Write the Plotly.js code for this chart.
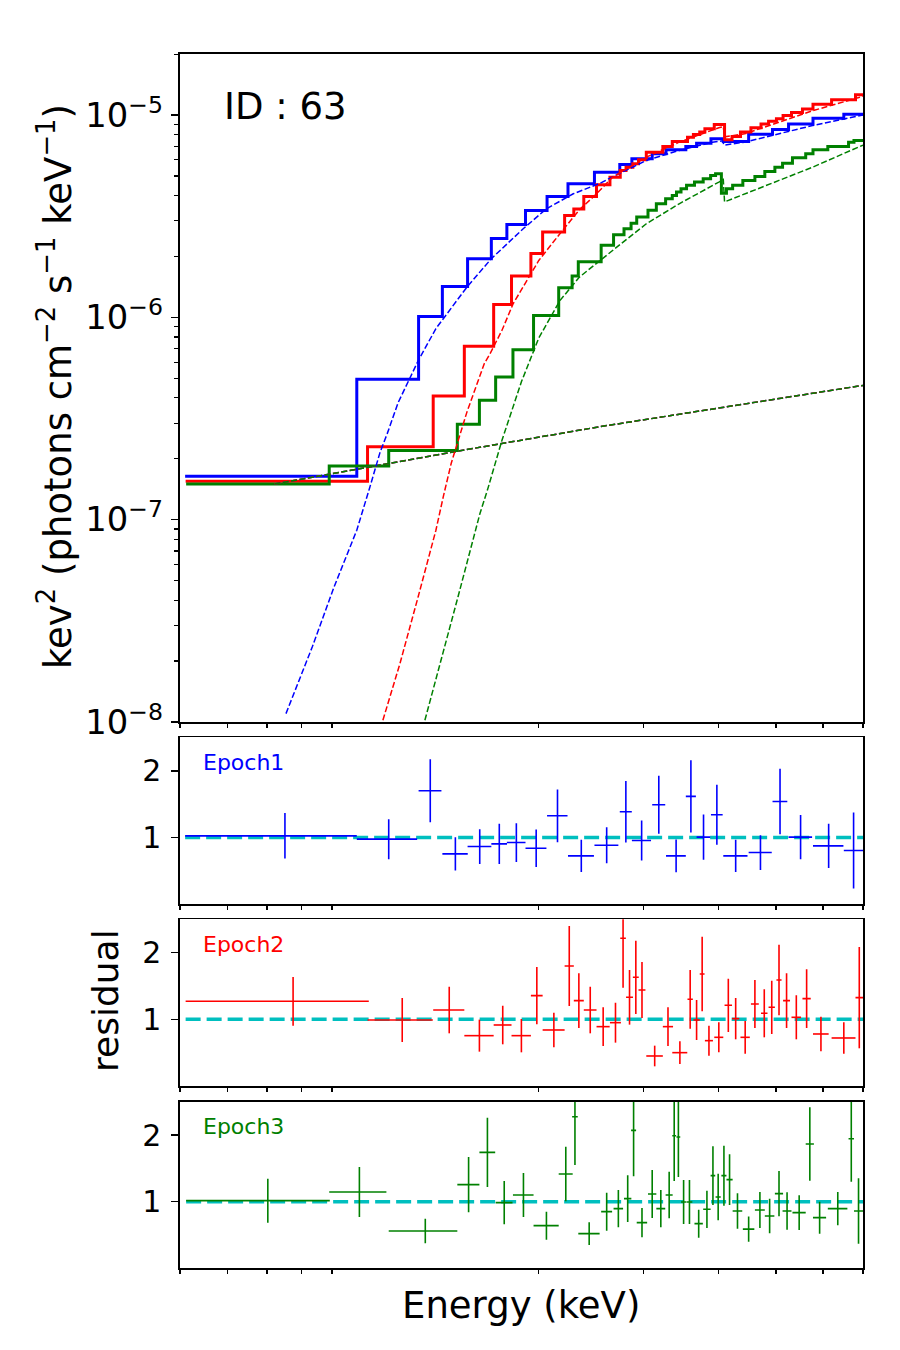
<!DOCTYPE html>
<html>
<head>
<meta charset="utf-8">
<script src="https://cdn.plot.ly/plotly-3.0.1.min.js"></script>
<style>
  html, body { margin: 0; padding: 0; background: #ffffff; }
  #chart { width: 900px; height: 1350px; }
</style>
</head>
<body>
<div id="chart"></div>
<script>
// ---------------- Epoch 1 (blue) ----------------
// bin centre (keV), half width (keV), data/model ratio, ratio error, folded model level per bin
const e1Energy    = [0.75, 1.12, 1.315, 1.449, 1.592, 1.717, 1.834, 1.98, 2.15, 2.357, 2.60, 2.80, 2.976, 3.18, 3.40, 3.60, 3.78, 3.98, 4.28, 4.71, 5.08, 5.50, 6.13, 6.75];
const e1HalfWidth = [0.24, 0.13, 0.058, 0.071, 0.073, 0.052, 0.066, 0.08, 0.085, 0.118, 0.12, 0.065, 0.11, 0.08, 0.13, 0.07, 0.10, 0.09, 0.20, 0.21, 0.145, 0.25, 0.36, 0.25];
const e1Ratio     = [1.025, 0.975, 1.70, 0.755, 0.865, 0.905, 0.925, 0.84, 1.325, 0.725, 0.885, 1.385, 0.955, 1.49, 0.725, 1.615, 1.005, 1.34, 0.725, 0.775, 1.54, 1.005, 0.875, 0.805];
const e1RatioErr  = [0.34, 0.30, 0.47, 0.25, 0.26, 0.30, 0.29, 0.28, 0.395, 0.24, 0.27, 0.46, 0.30, 0.435, 0.245, 0.54, 0.34, 0.45, 0.24, 0.26, 0.49, 0.33, 0.33, 0.57];
const e1Model     = [1.64e-7, 4.94e-7, 1.01e-6, 1.42e-6, 1.95e-6, 2.45e-6, 2.88e-6, 3.37e-6, 3.96e-6, 4.57e-6, 5.22e-6, 5.70e-6, 6.08e-6, 6.43e-6, 6.73e-6, 6.99e-6, 7.26e-6, 7.63e-6, 7.39e-6, 8.03e-6, 8.48e-6, 9.04e-6, 9.64e-6, 1.01e-5];
// absorbed component (keV, keV^2 flux)
const e1CurveE    = [0.753, 0.834, 0.907, 0.99, 1.04, 1.083, 1.114, 1.162, 1.255, 1.344, 1.515, 1.665, 1.883, 2.06, 2.285, 2.535, 2.66, 3.03, 3.44, 3.91, 4.07, 4.09, 4.43, 5.06, 5.76, 6.71, 7.0];
const e1CurveF    = [1.10e-8, 2.36e-8, 4.66e-8, 8.87e-8, 1.43e-7, 2.15e-7, 2.67e-7, 3.8e-7, 6.1e-7, 8.8e-7, 1.41e-6, 1.95e-6, 2.74e-6, 3.44e-6, 4.08e-6, 4.6e-6, 4.95e-6, 5.96e-6, 6.68e-6, 7.34e-6, 7.45e-6, 7.10e-6, 7.34e-6, 8.07e-6, 8.87e-6, 9.75e-6, 1.0e-5];

// ---------------- Epoch 2 (red) ----------------
const e2Energy    = [0.774, 1.18, 1.415, 1.59, 1.74, 1.87, 1.985, 2.12, 2.25, 2.335, 2.44, 2.565, 2.69, 2.77, 2.84, 2.91, 2.98, 3.13, 3.295, 3.45, 3.59, 3.68, 3.76, 3.86, 4.01, 4.16, 4.28, 4.44, 4.61, 4.78, 4.92, 5.06, 5.21, 5.41, 5.63, 5.95, 6.50, 6.90];
const e2HalfWidth = [0.263, 0.148, 0.085, 0.09, 0.06, 0.07, 0.045, 0.09, 0.04, 0.045, 0.06, 0.065, 0.057, 0.03, 0.038, 0.033, 0.04, 0.10, 0.065, 0.10, 0.037, 0.045, 0.035, 0.06, 0.07, 0.06, 0.06, 0.08, 0.07, 0.06, 0.06, 0.05, 0.07, 0.10, 0.09, 0.18, 0.30, 0.10];
const e2Ratio     = [1.27, 0.99, 1.14, 0.755, 0.915, 0.755, 1.355, 0.84, 1.80, 1.28, 1.14, 0.89, 0.95, 2.215, 1.33, 1.63, 1.44, 0.45, 0.89, 0.50, 1.30, 0.99, 1.68, 0.68, 0.73, 1.21, 1.01, 0.73, 1.23, 1.09, 1.18, 1.59, 1.28, 1.03, 1.31, 0.78, 0.72, 1.325];
const e2RatioErr  = [0.365, 0.33, 0.35, 0.24, 0.29, 0.25, 0.43, 0.26, 0.60, 0.41, 0.35, 0.29, 0.30, 0.74, 0.41, 0.55, 0.42, 0.155, 0.29, 0.17, 0.44, 0.30, 0.56, 0.225, 0.225, 0.40, 0.31, 0.245, 0.36, 0.36, 0.40, 0.53, 0.41, 0.33, 0.44, 0.26, 0.235, 0.76];
const e2Model     = [1.55e-7, 2.29e-7, 4.08e-7, 7.19e-7, 1.156e-6, 1.60e-6, 2.07e-6, 2.64e-6, 3.19e-6, 3.43e-6, 3.96e-6, 4.52e-6, 4.93e-6, 5.32e-6, 5.52e-6, 5.74e-6, 6.01e-6, 6.55e-6, 6.99e-6, 7.39e-6, 7.77e-6, 8.01e-6, 8.23e-6, 8.55e-6, 8.98e-6, 7.54e-6, 7.82e-6, 8.23e-6, 8.65e-6, 9.04e-6, 9.31e-6, 9.57e-6, 9.95e-6, 1.03e-5, 1.07e-5, 1.13e-5, 1.19e-5, 1.26e-5];
const e2CurveE    = [1.095, 1.17, 1.255, 1.344, 1.383, 1.426, 1.515, 1.62, 1.657, 1.735, 1.812, 2.0, 2.17, 2.34, 2.50, 2.66, 3.03, 3.44, 4.01, 4.08, 4.10, 4.43, 5.06, 5.76, 6.89, 7.0];
const e2CurveF    = [1.02e-8, 1.95e-8, 4.16e-8, 8.87e-8, 1.30e-7, 1.90e-7, 3.4e-7, 5.9e-7, 6.62e-7, 8.63e-7, 1.17e-6, 1.91e-6, 2.59e-6, 3.40e-6, 4.08e-6, 4.93e-6, 6.19e-6, 7.34e-6, 8.65e-6, 8.75e-6, 7.80e-6, 8.07e-6, 9.21e-6, 1.05e-5, 1.22e-5, 1.24e-5];

// ---------------- Epoch 3 (green) ----------------
const e3Energy    = [0.702, 1.0, 1.29, 1.525, 1.64, 1.75, 1.885, 2.06, 2.22, 2.30, 2.43, 2.60, 2.72, 2.82, 2.885, 2.98, 3.10, 3.205, 3.31, 3.375, 3.43, 3.50, 3.58, 3.71, 3.83, 3.92, 4.00, 4.09, 4.18, 4.31, 4.50, 4.70, 4.88, 5.06, 5.22, 5.47, 5.70, 5.92, 6.35, 6.69, 6.88];
const e3HalfWidth = [0.19, 0.11, 0.17, 0.065, 0.05, 0.057, 0.075, 0.10, 0.06, 0.025, 0.10, 0.055, 0.05, 0.04, 0.028, 0.06, 0.05, 0.055, 0.045, 0.025, 0.025, 0.035, 0.04, 0.06, 0.055, 0.035, 0.04, 0.04, 0.05, 0.08, 0.10, 0.09, 0.09, 0.08, 0.09, 0.14, 0.09, 0.15, 0.24, 0.07, 0.12];
const e3Ratio     = [1.015, 1.145, 0.56, 1.255, 1.74, 0.985, 1.10, 0.64, 1.415, 2.275, 0.52, 0.85, 0.895, 1.045, 2.07, 0.685, 1.115, 0.895, 1.10, 1.99, 1.97, 0.995, 0.995, 0.67, 0.885, 1.39, 1.07, 1.39, 1.33, 0.86, 0.587, 0.875, 0.785, 1.12, 0.86, 0.835, 1.865, 0.76, 0.895, 1.945, 0.86];
const e3RatioErr  = [0.33, 0.375, 0.185, 0.415, 0.52, 0.325, 0.33, 0.21, 0.41, 0.725, 0.17, 0.285, 0.28, 0.35, 0.69, 0.22, 0.36, 0.28, 0.35, 0.68, 0.60, 0.33, 0.33, 0.21, 0.28, 0.44, 0.35, 0.45, 0.38, 0.265, 0.19, 0.27, 0.26, 0.34, 0.28, 0.26, 0.55, 0.24, 0.25, 0.645, 0.49];
const e3Model     = [1.50e-7, 1.84e-7, 2.20e-7, 2.96e-7, 3.89e-7, 5.07e-7, 6.92e-7, 1.02e-6, 1.40e-6, 1.60e-6, 1.88e-6, 2.27e-6, 2.56e-6, 2.74e-6, 2.92e-6, 3.13e-6, 3.38e-6, 3.64e-6, 3.86e-6, 4.00e-6, 4.16e-6, 4.32e-6, 4.49e-6, 4.66e-6, 4.84e-6, 5.03e-6, 5.12e-6, 4.11e-6, 4.32e-6, 4.49e-6, 4.75e-6, 4.97e-6, 5.26e-6, 5.52e-6, 5.78e-6, 6.14e-6, 6.43e-6, 6.73e-6, 6.99e-6, 7.33e-6, 7.48e-6];
const e3CurveE    = [1.288, 1.367, 1.464, 1.593, 1.64, 1.735, 1.87, 2.0, 2.17, 2.34, 2.53, 2.66, 3.03, 3.44, 4.01, 4.08, 4.10, 4.43, 5.06, 5.76, 6.89, 7.0];
const e3CurveF    = [1.02e-8, 1.95e-8, 4.16e-8, 1.07e-7, 1.40e-7, 2.47e-7, 4.8e-7, 7.9e-7, 1.21e-6, 1.58e-6, 1.91e-6, 2.14e-6, 2.90e-6, 3.64e-6, 4.66e-6, 4.80e-6, 3.72e-6, 4.08e-6, 4.75e-6, 5.52e-6, 6.99e-6, 7.1e-6];

// unabsorbed (scattered) power law, common to the three epochs
const plEnergy = [0.72, 0.93, 1.46, 2.53, 7.0];
const plFlux   = [1.50e-7, 1.72e-7, 2.18e-7, 2.88e-7, 4.61e-7];

const epochNames  = ['Epoch1', 'Epoch2', 'Epoch3'];
const epochColors = ['#0000ff', '#ff0000', '#008000'];
const xTickVals   = [0.5, 0.6, 0.7, 0.8, 0.9, 2, 3, 4, 5, 6, 7];
const yTickVals   = [1, 2];
const energyRange = [0.5, 7.0];

const epochs = [
  {E: e1Energy, hw: e1HalfWidth, r: e1Ratio, dr: e1RatioErr, m: e1Model, cE: e1CurveE, cF: e1CurveF},
  {E: e2Energy, hw: e2HalfWidth, r: e2Ratio, dr: e2RatioErr, m: e2Model, cE: e2CurveE, cF: e2CurveF},
  {E: e3Energy, hw: e3HalfWidth, r: e3Ratio, dr: e3RatioErr, m: e3Model, cE: e3CurveE, cF: e3CurveF}
];

const FONT = 'DejaVu Sans, sans-serif';
const traces = [];

// folded model as a step line over the spectral bins
epochs.forEach((ep, i) => {
  const n = ep.E.length;
  const xs = ep.E.map((e, k) => e - ep.hw[k]);
  xs.push(ep.E[n - 1] + ep.hw[n - 1]);
  const ys = ep.m.slice();
  ys.push(ep.m[n - 1]);
  traces.push({
    x: xs, y: ys, xaxis: 'x', yaxis: 'y', type: 'scatter', mode: 'lines',
    line: {shape: 'hv', color: epochColors[i], width: 3}, hoverinfo: 'skip', showlegend: false
  });
});

// scattered power law, drawn once per epoch
epochColors.forEach(c => {
  traces.push({
    x: plEnergy, y: plFlux, xaxis: 'x', yaxis: 'y', type: 'scatter', mode: 'lines',
    line: {color: c, width: 1.5, dash: '6px,2.5px'}, hoverinfo: 'skip', showlegend: false
  });
});

// absorbed components
epochs.forEach((ep, i) => {
  traces.push({
    x: ep.cE, y: ep.cF, xaxis: 'x', yaxis: 'y', type: 'scatter', mode: 'lines',
    line: {color: epochColors[i], width: 1.5, dash: '6px,2.5px'}, hoverinfo: 'skip', showlegend: false
  });
});

// residual panels
epochs.forEach((ep, i) => {
  const ax = String(i + 2);
  traces.push({
    x: [ep.E[0] - ep.hw[0], energyRange[1]], y: [1, 1],
    xaxis: 'x' + ax, yaxis: 'y' + ax, type: 'scatter', mode: 'lines',
    line: {color: '#00bfbf', width: 3.5, dash: '15px,6px'}, hoverinfo: 'skip', showlegend: false
  });
  traces.push({
    x: ep.E, y: ep.r, xaxis: 'x' + ax, yaxis: 'y' + ax, type: 'scatter', mode: 'markers',
    marker: {size: 2, opacity: 0, color: epochColors[i]},
    error_x: {type: 'data', array: ep.hw, visible: true, thickness: 1.6, width: 0, color: epochColors[i]},
    error_y: {type: 'data', array: ep.dr, visible: true, thickness: 1.6, width: 0, color: epochColors[i]},
    hoverinfo: 'skip', showlegend: false
  });
});

const xDomain = [0.2, 0.95889];
const frame = {showline: true, mirror: true, linecolor: '#000', linewidth: 1.6, showgrid: false, zeroline: false};

function xAxis(anchor) {
  return Object.assign({}, frame, {
    type: 'log', domain: xDomain, anchor: anchor,
    range: [Math.log10(energyRange[0]), Math.log10(energyRange[1])],
    tickmode: 'array', tickvals: xTickVals, ticks: 'outside', ticklen: 4.5, tickwidth: 1.3,
    tickcolor: '#000', showticklabels: false
  });
}
function resAxis(anchor, domain) {
  return Object.assign({}, frame, {
    domain: domain, anchor: anchor, range: [0, 2.5],
    tickmode: 'array', tickvals: yTickVals, ticks: 'outside', ticklen: 7, tickwidth: 1.6,
    tickcolor: '#000', tickfont: {family: FONT, size: 30, color: '#000'}, ticklabelstandoff: 4
  });
}

const layout = {
  width: 900, height: 1350,
  margin: {l: 0, r: 0, t: 0, b: 0},
  paper_bgcolor: '#ffffff', plot_bgcolor: '#ffffff',
  font: {family: FONT, color: '#000'},
  showlegend: false,
  xaxis: xAxis('y'),
  xaxis2: xAxis('y2'),
  xaxis3: xAxis('y3'),
  xaxis4: xAxis('y4'),
  yaxis: Object.assign({}, frame, {
    type: 'log', domain: [0.46519, 0.96037], anchor: 'x',
    range: [-8, -4.696], dtick: 1, exponentformat: 'power',
    ticks: 'outside', ticklen: 7, tickwidth: 1.6, tickcolor: '#000',
    tickfont: {family: FONT, size: 27, color: '#000'}, ticklabelstandoff: 3,
    minor: {ticks: 'outside', ticklen: 4, tickwidth: 1.2, tickcolor: '#000', dtick: 'D1', showgrid: false}
  }),
  yaxis2: resAxis('x2', [0.33015, 0.45385]),
  yaxis3: resAxis('x3', [0.19556, 0.31904]),
  yaxis4: resAxis('x4', [0.06052, 0.18393]),
  annotations: [
    {text: 'ID : 63', xref: 'paper', yref: 'paper', x: 222 / 900, y: 1 - 106 / 1350,
     xanchor: 'left', yanchor: 'middle', showarrow: false, font: {family: FONT, size: 37, color: '#000'}},
    {text: 'kev<sup>2</sup> (photons cm<sup>\u22122</sup> s<sup>\u22121</sup> keV<sup>\u22121</sup>)',
     xref: 'paper', yref: 'paper', x: 56 / 900, y: 1 - 387 / 1350, textangle: -90,
     xanchor: 'center', yanchor: 'middle', showarrow: false, font: {family: FONT, size: 37, color: '#000'}},
    {text: 'residual', xref: 'paper', yref: 'paper', x: 105 / 900, y: 1 - 1001 / 1350, textangle: -90,
     xanchor: 'center', yanchor: 'middle', showarrow: false, font: {family: FONT, size: 36, color: '#000'}},
    {text: 'Energy (keV)', xref: 'paper', yref: 'paper', x: 521 / 900, y: 1 - 1305 / 1350,
     xanchor: 'center', yanchor: 'middle', showarrow: false, font: {family: FONT, size: 37, color: '#000'}}
  ]
};

[762, 944, 1126].forEach((yPix, i) => {
  layout.annotations.push({
    text: epochNames[i], xref: 'paper', yref: 'paper', x: 201 / 900, y: 1 - yPix / 1350,
    xanchor: 'left', yanchor: 'middle', showarrow: false,
    font: {family: FONT, size: 22, color: epochColors[i]}
  });
});

Plotly.newPlot('chart', traces, layout, {staticPlot: true, displayModeBar: false});
</script>
</body>
</html>
